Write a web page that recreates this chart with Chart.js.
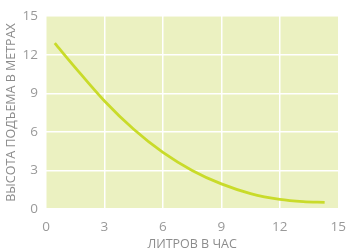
<!DOCTYPE html>
<html>
<head>
<meta charset="utf-8">
<script src="https://cdn.jsdelivr.net/npm/chart.js@4.4.1/dist/chart.umd.min.js"></script>
<style>
  html, body { margin: 0; padding: 0; background: #fff; }
  #wrap { width: 356px; height: 252px; }
</style>
</head>
<body>
<div id="wrap"><canvas id="canvas" width="356" height="252"></canvas></div>
<script>
// values
var litres = [0.45, 1.5, 3, 4.5, 6, 7.5, 9, 10.5, 12, 13.2, 14.3];
var height = [12.9, 11.0, 8.4, 6.2, 4.4, 3.0, 1.95, 1.2, 0.75, 0.58, 0.52];
var xTicks = [0, 3, 6, 9, 12, 15];
var yTicks = [0, 3, 6, 9, 12, 15];
var xTitle = "ЛИТРОВ В ЧАС";
var yTitle = "ВЫСОТА ПОДЪЕМА В МЕТРАХ";

var points = [];
for (let i = 0; i < litres.length; i++) {
    points.push({ x: litres[i], y: height[i] });
}

// fill the plot area
var plotBg = {
    id: "plotBg",
    beforeDraw: function(chart) {
        var a = chart.chartArea;
        var ctx = chart.ctx;
        ctx.save();
        ctx.fillStyle = "#ebf1c1";
        ctx.fillRect(a.left, a.top, a.right - a.left, a.bottom - a.top);
        ctx.restore();
    }
};

var ctx = document.getElementById("canvas").getContext("2d");
var myChart = new Chart(ctx, {
    type: "scatter",
    data: {
        datasets: [{
            data: points,
            showLine: true,
            borderColor: "#c9db2a",
            borderWidth: 2.8,
            pointRadius: 0,
            tension: 0.4,
            cubicInterpolationMode: "monotone"
        }]
    },
    options: {
        responsive: false,
        animation: false,
        layout: { padding: { top: 16, right: 10, left: 0, bottom: 0 } },
        plugins: { legend: { display: false }, tooltip: { enabled: false } },
        scales: {
            x: {
                type: "linear",
                min: 0, max: 15,
                afterBuildTicks: function(s) { s.ticks = xTicks.map(v => ({ value: v })); },
                afterFit: function(s) { s.height = 43; },
                grid: { color: "#ffffff", lineWidth: 1.5, drawTicks: false },
                border: { display: false },
                ticks: { color: "#999999", padding: 10, font: { family: "Open Sans", size: 13.5 } },
                title: { display: true, text: xTitle, color: "#8c8c8c", padding: { top: 1, bottom: 0 }, font: { family: "Open Sans", size: 12.5 } }
            },
            y: {
                type: "linear",
                min: 0, max: 15,
                afterBuildTicks: function(s) { s.ticks = yTicks.map(v => ({ value: v })); },
                afterFit: function(s) { s.width = 46; },
                grid: { color: "#ffffff", lineWidth: 1.5, drawTicks: false },
                border: { display: false },
                ticks: { color: "#999999", padding: 8, font: { family: "Open Sans", size: 13.5 } },
                title: { display: true, text: yTitle, color: "#8c8c8c", padding: { top: 4, bottom: 2 }, font: { family: "Open Sans", size: 12.5 } }
            }
        }
    },
    plugins: [plotBg]
});
</script>
</body>
</html>
